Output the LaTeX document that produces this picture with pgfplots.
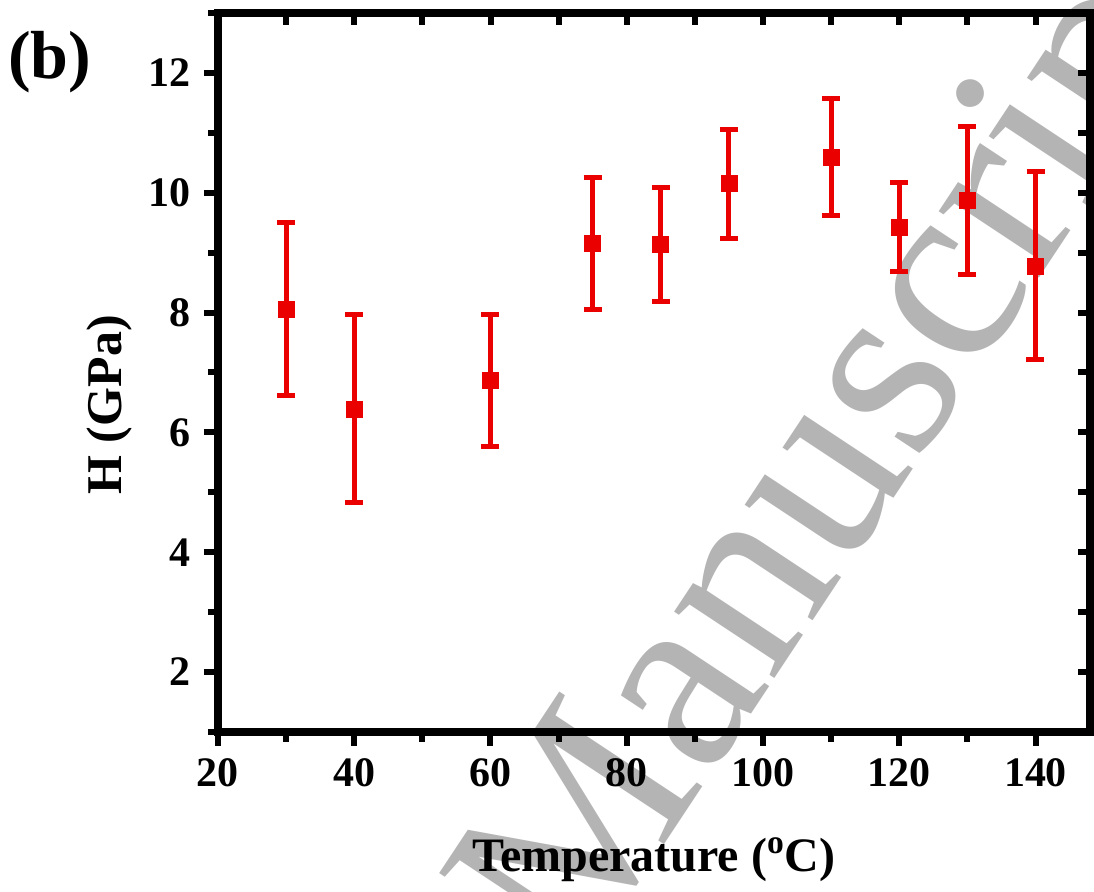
\documentclass[border=0pt]{standalone}
\usepackage{pgfplots}
\pgfplotsset{compat=1.18}
\usepackage{pgfplotstable}
\usepackage{fontspec}
\setmainfont{Liberation Serif}
\definecolor{pred}{RGB}{235,0,0}
\definecolor{wm}{RGB}{180,180,180}

\pgfplotstableread{
x y ep em
30 8.06 1.45 1.44
40 6.38 1.58 1.55
60 6.86 1.10 1.09
75 9.16 1.10 1.11
85 9.13 0.95 0.94
95 10.15 0.90 0.91
110 10.59 0.98 0.97
120 9.42 0.75 0.73
130 9.88 1.22 1.25
140 8.77 1.59 1.55
}\datatable

\begin{document}
\begin{tikzpicture}
% watermark (grey, behind the plot)
\node[text=wm, font=\fontsize{131}{131}\selectfont, rotate=56.5, anchor=base, inner sep=0pt] at (345pt,127.5pt) {Manuscript};

\begin{axis}[
  scale only axis, width=436pt, height=359.5pt,
  xmin=20, xmax=148, ymin=1, ymax=13,
  axis line style={line width=4pt},
  xtick pos=bottom, ytick pos=left,
  tick align=outside,
  xtick={20,40,...,140}, minor xtick={30,50,...,130},
  ytick={2,4,...,12}, minor ytick={1,3,...,13},
  major tick length=7pt, minor tick length=5pt,
  every tick/.style={black, line width=3pt},
  /pgf/number format/assume math mode=true,
  ticklabel style={font=\fontsize{21}{21}\selectfont\bfseries},
  xticklabel style={yshift=-3pt},
  yticklabel style={xshift=-3pt},
  xlabel={Temperature (\textsuperscript{o}C)},
  ylabel={H (GPa)},
  every axis x label/.style={at={(axis description cs:0.5,-0.178)}, anchor=center, font=\fontsize{24}{24}\selectfont\bfseries},
  every axis y label/.style={at={(axis description cs:-0.124,0.455)}, rotate=90, anchor=center, font=\fontsize{25}{25}\selectfont\bfseries},
  clip=false,
]
\addplot[only marks, mark=square*, mark size=4pt, color=pred,
  error bars/.cd, y dir=both, y explicit,
  error bar style={line width=2.5pt, color=pred},
  error mark options={rotate=90, line width=2.5pt, mark size=4.5pt, color=pred}]
  table[x=x, y=y, y error plus=ep, y error minus=em] {\datatable};
\node[font=\fontsize{34}{34}\selectfont\bfseries] at (axis description cs:-0.193,0.932) {(b)};
\end{axis}

\begin{axis}[
  scale only axis, width=436pt, height=359.5pt,
  xmin=20, xmax=148, ymin=1, ymax=13,
  axis x line*=top, axis y line*=right,
  axis line style={draw=none},
  tick align=inside,
  xtick={30,40,...,140}, ytick={2,3,...,12},
  xticklabels={}, yticklabels={},
  major tick length=6pt,
  every tick/.style={black, line width=3pt},
]
\end{axis}

\pgfresetboundingbox
\path (-109pt,-80pt) rectangle (438pt,366pt);
\end{tikzpicture}
\end{document}
